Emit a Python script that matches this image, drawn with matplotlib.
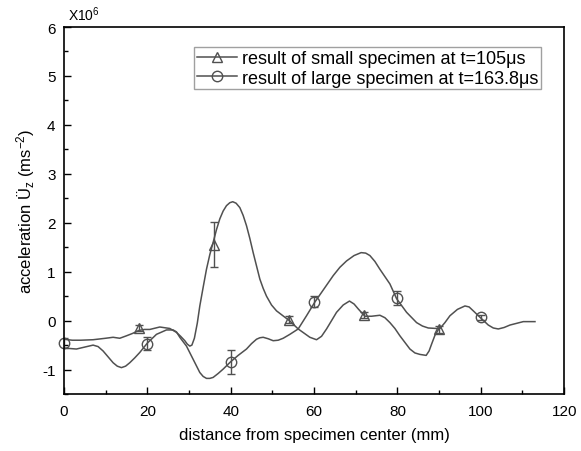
import matplotlib
matplotlib.use("Agg")
import matplotlib.pyplot as plt
from matplotlib.lines import Line2D
from matplotlib.ticker import MultipleLocator

plt.rcParams["font.family"] = ["Liberation Sans", "DejaVu Sans"]
plt.rcParams["mathtext.fontset"] = "custom"
plt.rcParams["mathtext.rm"] = "Liberation Sans"
plt.rcParams["mathtext.it"] = "Liberation Sans"
plt.rcParams["axes.unicode_minus"] = False

# curve traced from the small specimen (units of 1e6 m/s^2)
x_small = [0, 2, 4, 7, 10, 11.8, 13.4, 15, 16.5, 18, 19.3, 20.6, 23, 25.4, 27, 28,
           29, 29.6, 30.2, 30.7, 31.3, 32, 32.6, 33.4, 34.2, 35, 35.8, 36.6, 37.4,
           38.2, 39, 39.8, 40.5, 41.3, 42.2, 43, 43.8, 44.6, 45.4, 46.2, 47, 47.8,
           48.6, 49.8, 51, 53, 54.1, 56.2, 59, 60.6, 61.8, 63, 64.2, 65.4, 67,
           68.5, 69.6, 70.6, 72.2, 73.8, 75.8, 77, 78.2, 79.4, 80.6, 83, 84.2,
           85.4, 86.9, 87.6, 88.2, 89, 90]
y_small = [-0.38, -0.40, -0.40, -0.39, -0.36, -0.34, -0.36, -0.31, -0.26, -0.20,
           -0.18, -0.18, -0.13, -0.16, -0.24, -0.32, -0.41, -0.48, -0.52, -0.50,
           -0.36, -0.05, 0.30, 0.68, 1.05, 1.35, 1.60, 1.86, 2.08, 2.24, 2.35,
           2.41, 2.43, 2.40, 2.31, 2.15, 1.94, 1.68, 1.39, 1.12, 0.85, 0.66, 0.50,
           0.32, 0.20, 0.07, 0.0, -0.17, -0.34, -0.39, -0.32, -0.17, 0.0, 0.17,
           0.32, 0.40, 0.34, 0.24, 0.09, 0.09, 0.11, 0.06, -0.04, -0.16, -0.31,
           -0.58, -0.66, -0.69, -0.71, -0.62, -0.48, -0.30, -0.16]

# curve traced from the large specimen
x_large = [0, 3, 5, 7, 8.2, 9.4, 10.6, 11.8, 12.8, 13.8, 14.8, 15.8, 17, 18.2, 20,
           22.2, 24.6, 26.2, 27, 27.8, 29.4, 31, 32.6, 33.4, 34.2, 35, 35.8, 37,
           38.2, 40, 41.8, 43.8, 45, 46.2, 47, 47.8, 49, 50.2, 51.4, 52.6, 54.2,
           56.2, 58.2, 60.2, 62.4, 64.6, 66.2, 67.8, 69.6, 71.3, 72.4, 73.4, 74.6,
           75.8, 78.2, 79.8, 82.2, 84.6, 86, 87.4, 89.4, 90.2, 91.4, 92.6, 94.4,
           96.2, 97.2, 98.2, 99.8, 101.8, 103, 104.2, 105.6, 107, 110.2, 113]
y_large = [-0.56, -0.58, -0.54, -0.50, -0.53, -0.62, -0.74, -0.86, -0.93, -0.96,
           -0.93, -0.86, -0.76, -0.65, -0.46, -0.28, -0.19, -0.19, -0.23, -0.34,
           -0.52, -0.79, -1.06, -1.14, -1.18, -1.18, -1.16, -1.08, -0.99, -0.84,
           -0.71, -0.58, -0.47, -0.38, -0.35, -0.34, -0.37, -0.41, -0.40, -0.36,
           -0.28, -0.17, 0.10, 0.38, 0.65, 0.92, 1.09, 1.22, 1.33, 1.39, 1.38,
           1.33, 1.21, 1.05, 0.75, 0.45, 0.17, -0.04, -0.11, -0.15, -0.16, -0.16,
           -0.04, 0.10, 0.23, 0.30, 0.28, 0.20, 0.07, -0.09, -0.15, -0.17, -0.14,
           -0.09, -0.02, -0.02]

# measured points with error bars
tri_x = [18, 36, 54, 72, 90]
tri_y = [-0.15, 1.55, 0.02, 0.12, -0.18]
tri_err = [0.07, 0.46, 0.07, 0.06, 0.08]

circ_x = [0, 20, 40, 60, 80, 100]
circ_y = [-0.45, -0.47, -0.84, 0.39, 0.46, 0.07]
circ_err = [0.1, 0.14, 0.25, 0.11, 0.14, 0.05]

labels = ["result of small specimen at t=105\u03bcs",
          "result of large specimen at t=163.8\u03bcs"]

col = "#505050"

fig = plt.figure(figsize=(5.81, 4.52), dpi=100)
ax = fig.add_axes([0.110, 0.126, 0.861, 0.812])

ax.plot(x_small, y_small, color=col, lw=1.1)
ax.plot(x_large, y_large, color=col, lw=1.1)

ax.errorbar(tri_x, tri_y, yerr=tri_err, fmt="none", ecolor=col, elinewidth=1,
            capsize=3, capthick=1)
ax.errorbar(circ_x, circ_y, yerr=circ_err, fmt="none", ecolor=col, elinewidth=1,
            capsize=3, capthick=1)
ax.plot(tri_x, tri_y, ls="none", marker="^", ms=7.5, mfc="none", mec=col, mew=1)
ax.plot(circ_x, circ_y, ls="none", marker="o", ms=7.5, mfc="none", mec=col, mew=1,
        clip_on=False)

ax.set_xlim(0, 120)
ax.set_ylim(-1.5, 6)
ax.xaxis.set_major_locator(MultipleLocator(20))
ax.xaxis.set_minor_locator(MultipleLocator(10))
ax.yaxis.set_major_locator(MultipleLocator(1))
ax.yaxis.set_minor_locator(MultipleLocator(0.5))
ax.tick_params(which="both", direction="in", top=False, right=False,
               labelsize=11, width=1)
ax.tick_params(which="major", length=5)
ax.tick_params(which="minor", length=3)
ax.tick_params(axis="x", pad=7)
ax.tick_params(axis="y", pad=6)
for s in ax.spines.values():
    s.set_linewidth(1.2)

ax.set_xlabel("distance from specimen center (mm)", fontsize=12, labelpad=7)
ax.set_ylabel("acceleration \u00dc$_z$ (ms$^{-2}$)", fontsize=12, labelpad=4)
ax.text(0.008, 1.012, "X10$^6$", transform=ax.transAxes, fontsize=10,
        ha="left", va="bottom")

handles = [
    Line2D([], [], color=col, lw=1.1, marker="^", ms=7.5, mfc="none", mec=col),
    Line2D([], [], color=col, lw=1.1, marker="o", ms=7.5, mfc="none", mec=col),
]
leg = ax.legend(handles, labels, loc="upper right", bbox_to_anchor=(0.954, 0.945),
                fontsize=13, frameon=True, fancybox=False, handlelength=2.2,
                borderpad=0.15, labelspacing=0.15, handletextpad=0.3,
                borderaxespad=0)
leg.get_frame().set_edgecolor("#888888")
leg.get_frame().set_linewidth(1)

fig.savefig("out.png", dpi=100)
